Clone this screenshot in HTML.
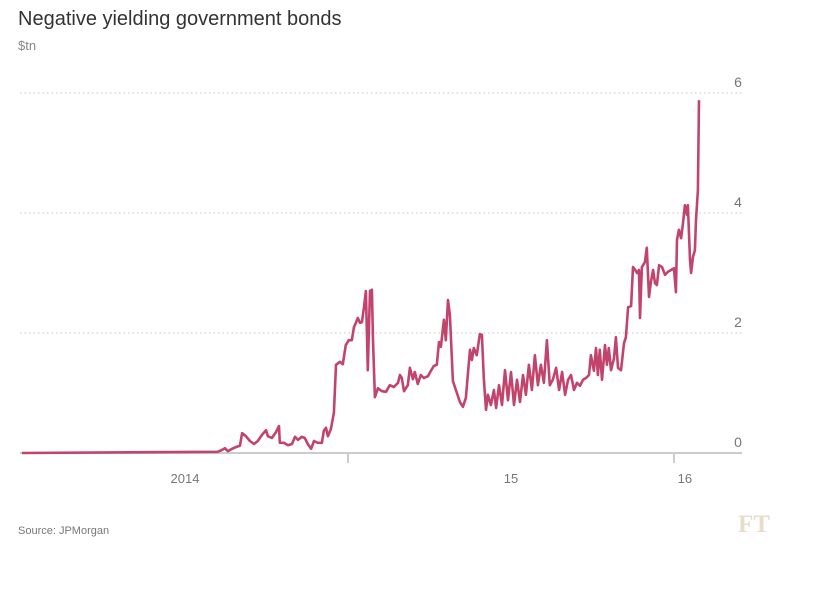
<!DOCTYPE html>
<html><head><meta charset="utf-8">
<style>
html,body{margin:0;padding:0;background:#fff;}
body{width:820px;height:591px;overflow:hidden;font-family:"Liberation Sans",sans-serif;}
</style></head>
<body>
<svg width="820" height="591" viewBox="0 0 820 591" xmlns="http://www.w3.org/2000/svg">
<text x="18" y="25" font-size="20" fill="#333">Negative yielding government bonds</text>
<text x="18" y="50" font-size="13" fill="#888">$tn</text>
<g id="grid"></g>
<g id="axes"></g>
<path id="line" fill="none" stroke="#c2446d" stroke-width="2.6" stroke-linejoin="round"/>
<text x="18" y="534" font-size="11" fill="#777">Source: JPMorgan</text>
<text x="738" y="532" font-size="25" font-weight="bold" fill="#e8dccb" font-family="Liberation Serif, serif">FT</text>
</svg>
<script>
const months = [0,7.2,7.36,7.47,7.58,7.73,7.88,8.02,8.1,8.24,8.39,8.54,8.68,8.83,8.98,9.05,9.2,9.35,9.46,9.49,9.64,9.79,9.94,10.05,10.16,10.3,10.41,10.52,10.64,10.75,10.89,11.04,11.11,11.19,11.26,11.37,11.48,11.56,11.7,11.81,11.92,12.03,12.14,12.22,12.29,12.36,12.44,12.51,12.59,12.66,12.73,12.81,12.88,12.92,12.99,13.1,13.25,13.4,13.54,13.69,13.84,13.91,13.98,14.06,14.2,14.28,14.39,14.46,14.57,14.68,14.79,14.94,15.05,15.16,15.27,15.35,15.42,15.53,15.6,15.68,15.75,15.86,15.97,16.12,16.23,16.34,16.41,16.49,16.56,16.63,16.74,16.85,16.93,17.0,17.08,17.15,17.26,17.37,17.45,17.56,17.67,17.78,17.89,18.0,18.11,18.22,18.33,18.44,18.55,18.66,18.77,18.88,18.99,19.1,19.21,19.32,19.43,19.54,19.66,19.77,19.88,19.99,20.1,20.21,20.32,20.43,20.54,20.65,20.76,20.87,20.94,21.05,21.13,21.2,21.27,21.35,21.46,21.53,21.6,21.68,21.79,21.86,21.94,22.05,22.16,22.23,22.31,22.42,22.49,22.57,22.64,22.71,22.75,22.82,22.93,23.0,23.08,23.15,23.23,23.3,23.37,23.45,23.56,23.67,23.78,23.89,24.0,24.07,24.11,24.18,24.26,24.33,24.4,24.48,24.51,24.59,24.63,24.7,24.77,24.81,24.88,24.92];
const values = [0,0.02,0.05,0.08,0.03,0.07,0.1,0.12,0.33,0.28,0.2,0.15,0.2,0.3,0.38,0.28,0.25,0.35,0.45,0.17,0.17,0.13,0.15,0.27,0.22,0.27,0.25,0.15,0.07,0.2,0.17,0.17,0.37,0.42,0.28,0.4,0.67,1.47,1.52,1.48,1.8,1.88,1.88,2.1,2.17,2.25,2.17,2.18,2.43,2.7,1.38,2.7,2.72,1.88,0.93,1.08,1.03,1.02,1.13,1.1,1.17,1.3,1.25,1.03,1.13,1.42,1.23,1.35,1.15,1.3,1.25,1.28,1.37,1.45,1.47,1.85,1.77,2.22,1.88,2.55,2.3,1.2,1.05,0.85,0.77,0.92,1.3,1.72,1.55,1.75,1.63,1.98,1.97,1.25,0.72,0.97,0.8,1.05,0.75,1.13,0.8,1.38,0.88,1.35,0.8,1.22,0.85,1.3,0.97,1.47,1.05,1.63,1.13,1.47,1.17,1.88,1.13,1.22,1.42,1.05,1.35,0.97,1.22,1.3,1.05,1.17,1.12,1.22,1.25,1.3,1.63,1.37,1.75,1.3,1.72,1.22,1.8,1.47,1.75,1.38,1.58,1.93,1.42,1.38,1.83,1.93,2.43,2.45,3.1,3.05,3.0,3.05,2.25,3.1,3.18,3.42,2.6,2.85,3.05,2.83,2.8,3.13,3.1,2.97,3.02,3.05,3.08,2.68,3.55,3.72,3.58,3.83,4.13,3.97,4.13,3.22,3.0,3.27,3.38,3.88,4.38,5.88];
const yTicks = [0,2,4,6];
const xTickMonths = [12,24];
const xLabels = ["2014","15","16"];
const xLabelMonths = [6,18,24.4];

const NS="http://www.w3.org/2000/svg";
const X0=22, PXM=326/12, Y0=453, PXV=60, L=20, R=742;
const xs=m=>X0+m*PXM, ys=v=>Y0-v*PXV;
function mk(tag,attrs,parent){const e=document.createElementNS(NS,tag);for(const k in attrs)e.setAttribute(k,attrs[k]);parent.appendChild(e);return e;}
const grid=document.getElementById('grid'), axes=document.getElementById('axes');
yTicks.forEach(t=>{
  if(t>0){
    const g=mk('line',{x1:L,x2:R,y1:ys(t),y2:ys(t),stroke:'#d6d0c8','stroke-width':1.2,'stroke-dasharray':'1.5,3'},grid);
    
    
  }
  const tx=mk('text',{x:738,y:ys(t)-6,'font-size':14,fill:'#777','text-anchor':'middle'},axes);
  tx.textContent=t;
  
  
});
const base=mk('line',{x1:L,x2:R,y1:Y0,y2:Y0,stroke:'#ccc','stroke-width':2},axes);


xTickMonths.forEach(m=>{
  const t=mk('line',{x1:xs(m),x2:xs(m),y1:Y0,y2:Y0+10,stroke:'#ccc','stroke-width':2},axes);
  
  
});
xLabels.forEach((s,i)=>{
  const t=mk('text',{x:xs(xLabelMonths[i]),y:483,'font-size':13,fill:'#777','text-anchor':'middle'},axes);
  t.textContent=s;
  
  
});
let d='';
months.forEach((m,i)=>{d+=(i?'L':'M')+xs(m).toFixed(1)+' '+ys(values[i]).toFixed(1);});
document.getElementById('line').setAttribute('d',d);
</script>
</body></html>
